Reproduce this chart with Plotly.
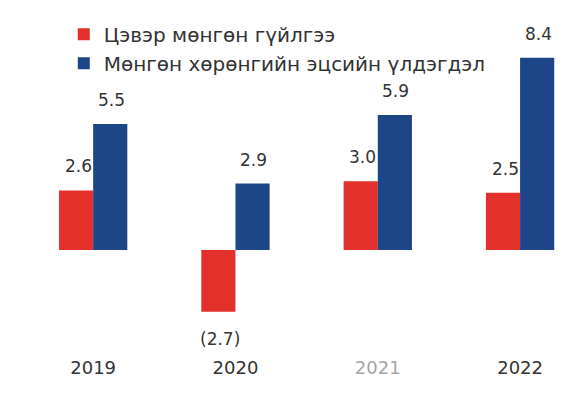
import plotly.graph_objects as go

years = ["2019", "2020", "2021", "2022"]
year_labels = ["2019", "2020", "<span style='color:#a6a6a6'>2021</span>", "2022"]
net_flow = [2.6, -2.7, 3.0, 2.5]
end_balance = [5.5, 2.9, 5.9, 8.4]
net_flow_labels = ["2.6", "(2.7)", "3.0", "2.5"]
end_balance_labels = ["5.5", "2.9", "5.9", "8.4"]
name_flow = "Цэвэр мөнгөн гүйлгээ"
name_balance = "Мөнгөн хөрөнгийн эцсийн үлдэгдэл"

RED = "#E3302A"
BLUE = "#1C4687"
FONT = "DejaVu Sans"
TXT = "#333333"

fig = go.Figure()
fig.add_bar(x=years, y=net_flow, name=name_flow, marker_color=RED, marker_line_width=0)
fig.add_bar(x=years, y=end_balance, name=name_balance, marker_color=BLUE, marker_line_width=0)

ann = []
for i in range(len(years)):
    v = net_flow[i]
    ann.append(dict(x=i, y=v, text=net_flow_labels[i], xref="x", yref="y", showarrow=False,
                    xshift=-15, yshift=(24 if v >= 0 else -27),
                    font=dict(family=FONT, size=17, color=TXT)))
    v = end_balance[i]
    ann.append(dict(x=i, y=v, text=end_balance_labels[i], xref="x", yref="y", showarrow=False,
                    xshift=18, yshift=(24 if v >= 0 else -27),
                    font=dict(family=FONT, size=17, color=TXT)))

fig.update_layout(
    width=579, height=394,
    margin=dict(l=14, r=8, t=2, b=47),
    paper_bgcolor="white", plot_bgcolor="white",
    barmode="group", bargap=0.52, bargroupgap=0,
    font=dict(family=FONT, size=17, color=TXT),
    annotations=ann,
    legend=dict(x=0.075, y=0.986, xanchor="left", yanchor="top", bgcolor="rgba(0,0,0,0)",
                font=dict(family=FONT, size=20, color=TXT), itemwidth=30, tracegroupgap=0),
    xaxis=dict(type="category", range=[-0.5, 3.414], tickvals=years, ticktext=year_labels,
               showgrid=False, showline=False, zeroline=False, ticks="",
               tickfont=dict(size=18, color=TXT)),
    yaxis=dict(range=[-4.585, 10.48], visible=False, showgrid=False, zeroline=False),
)

fig.write_html("out.html")
